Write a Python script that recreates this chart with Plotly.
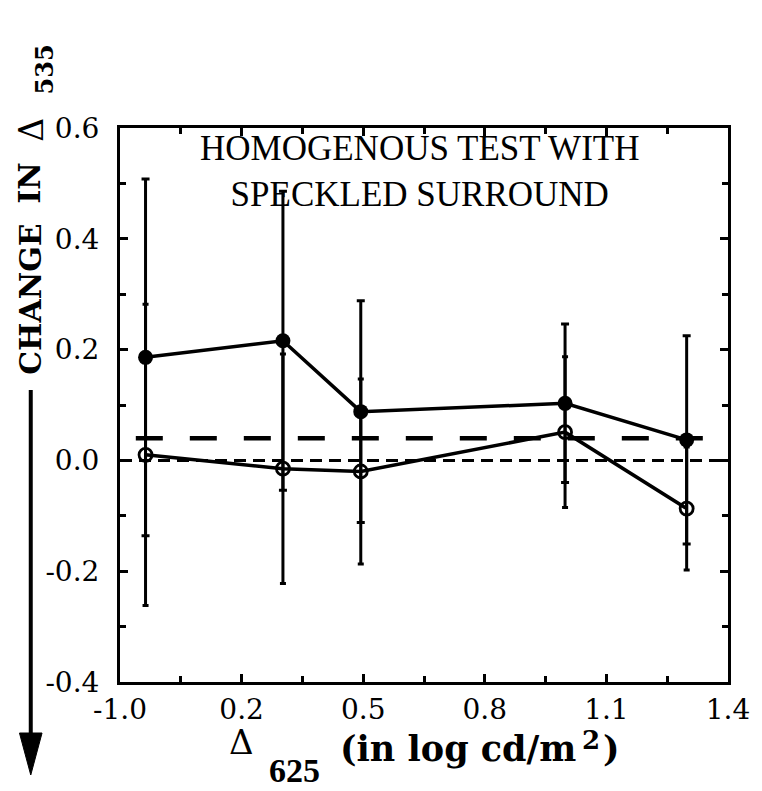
import plotly.graph_objects as go

# ---- data (x in axis-slot units: tick i sits at i) ----
tick_labels = ["-1.0", "0.2", "0.5", "0.8", "1.1", "1.4"]
y_tick_vals = [-0.4, -0.2, 0.0, 0.2, 0.4, 0.6]
y_tick_text = ["-0.4", "-0.2", "0.0", "0.2", "0.4", "0.6"]
x_pos = [0.21, 1.34, 1.98, 3.66, 4.66]

filled_y = [0.186, 0.216, 0.088, 0.103, 0.037]
filled_err = [0.322, 0.270, 0.200, 0.143, 0.188]

open_y = [0.010, -0.015, -0.020, 0.051, -0.087]
open_err = [0.272, 0.207, 0.167, 0.136, 0.111]

ref_long_y = 0.040
ref_zero_y = 0.0

W, H = 762, 791
L, R, T, B = 120, 22, 128, 109
PW, PH = W - L - R, H - T - B

def px(x):
    return (x - L) / PW

def py(y):
    return (H - B - y) / PH

SERIF = "Liberation Serif"
WIDE = "DejaVu Serif"

fig = go.Figure()

# reference lines
fig.add_trace(go.Scatter(x=[0, 5], y=[ref_zero_y, ref_zero_y], mode="lines",
                         line=dict(color="black", width=3, dash="12px,7px"),
                         hoverinfo="skip", showlegend=False))
fig.add_trace(go.Scatter(x=[0.13, 5], y=[ref_long_y, ref_long_y], mode="lines",
                         line=dict(color="black", width=4.5, dash="27px,27px"),
                         hoverinfo="skip", showlegend=False))

# open circles series
fig.add_trace(go.Scatter(
    x=x_pos, y=open_y, mode="lines+markers",
    line=dict(color="black", width=3.5),
    marker=dict(symbol="circle-open", size=13, color="black", line=dict(width=2.8)),
    error_y=dict(type="data", array=open_err, visible=True, color="black",
                 thickness=3, width=3),
    showlegend=False))

# filled circles series
fig.add_trace(go.Scatter(
    x=x_pos, y=filled_y, mode="lines+markers",
    line=dict(color="black", width=3.5),
    marker=dict(symbol="circle", size=15, color="black"),
    error_y=dict(type="data", array=filled_err, visible=True, color="black",
                 thickness=3, width=4),
    showlegend=False))

axis_common = dict(
    showline=True, linecolor="black", linewidth=3, mirror="ticks",
    ticks="inside", ticklen=8, tickwidth=3, tickcolor="black",
    showgrid=False, zeroline=False, ticklabeloverflow="allow",
    tickfont=dict(family=WIDE, size=28, color="black"),
)

fig.update_xaxes(range=[0, 5], tickvals=list(range(6)), ticktext=tick_labels,
                 minor=dict(dtick=0.5, tick0=0, ticks="inside", ticklen=6,
                            tickwidth=3, tickcolor="black"),
                 ticklabelstandoff=0, **axis_common)
fig.update_yaxes(range=[-0.4, 0.6], tickvals=y_tick_vals, ticktext=y_tick_text,
                 minor=dict(dtick=0.1, tick0=-0.4, ticks="inside", ticklen=6,
                            tickwidth=3, tickcolor="black"),
                 ticklabelstandoff=12, **axis_common)

def note(text, x, y, size, family=WIDE, xanchor="center", yanchor="middle", angle=0):
    return dict(text=text, x=px(x), y=py(y), xref="paper", yref="paper",
                xanchor=xanchor, yanchor=yanchor, showarrow=False, textangle=angle,
                font=dict(family=family, size=size, color="black"))

ann = [
    note("HOMOGENOUS TEST WITH<br>SPECKLED SURROUND", 425, 171, 35, family=SERIF),
    # y axis title pieces (rotated)
    note("<b>CHANGE</b>", 28, 299, 30, angle=-90),
    note("<b>IN</b>", 28, 183, 30, angle=-90),
    note("Δ", 29, 130, 33, angle=-90),
    note("<b>535</b>", 42, 70, 24, angle=-90),
    # x axis title pieces
    note("Δ", 244, 742, 34),
    note("<b>625</b>", 298, 791, 34, family=SERIF, yanchor="bottom"),
    note("<b>(in log cd/m</b>", 342, 748, 35, xanchor="left"),
    note("<b>2</b>", 600, 740, 26),
    note("<b>)</b>", 610, 748, 35, xanchor="left"),
]

shapes = [
    dict(type="line", xref="paper", yref="paper", x0=px(29), x1=px(29),
         y0=py(390), y1=py(736), line=dict(color="black", width=4)),
    dict(type="path", xref="paper", yref="paper",
         path="M {} {} L {} {} L {} {} Z".format(px(17.5), py(733), px(40.5), py(733), px(29), py(775)),
         fillcolor="black", line=dict(color="black", width=1)),
]

fig.update_layout(width=W, height=H, margin=dict(l=L, r=R, t=T, b=B),
                  paper_bgcolor="white", plot_bgcolor="white",
                  annotations=ann, shapes=shapes, showlegend=False)

fig.write_html("out.html")
